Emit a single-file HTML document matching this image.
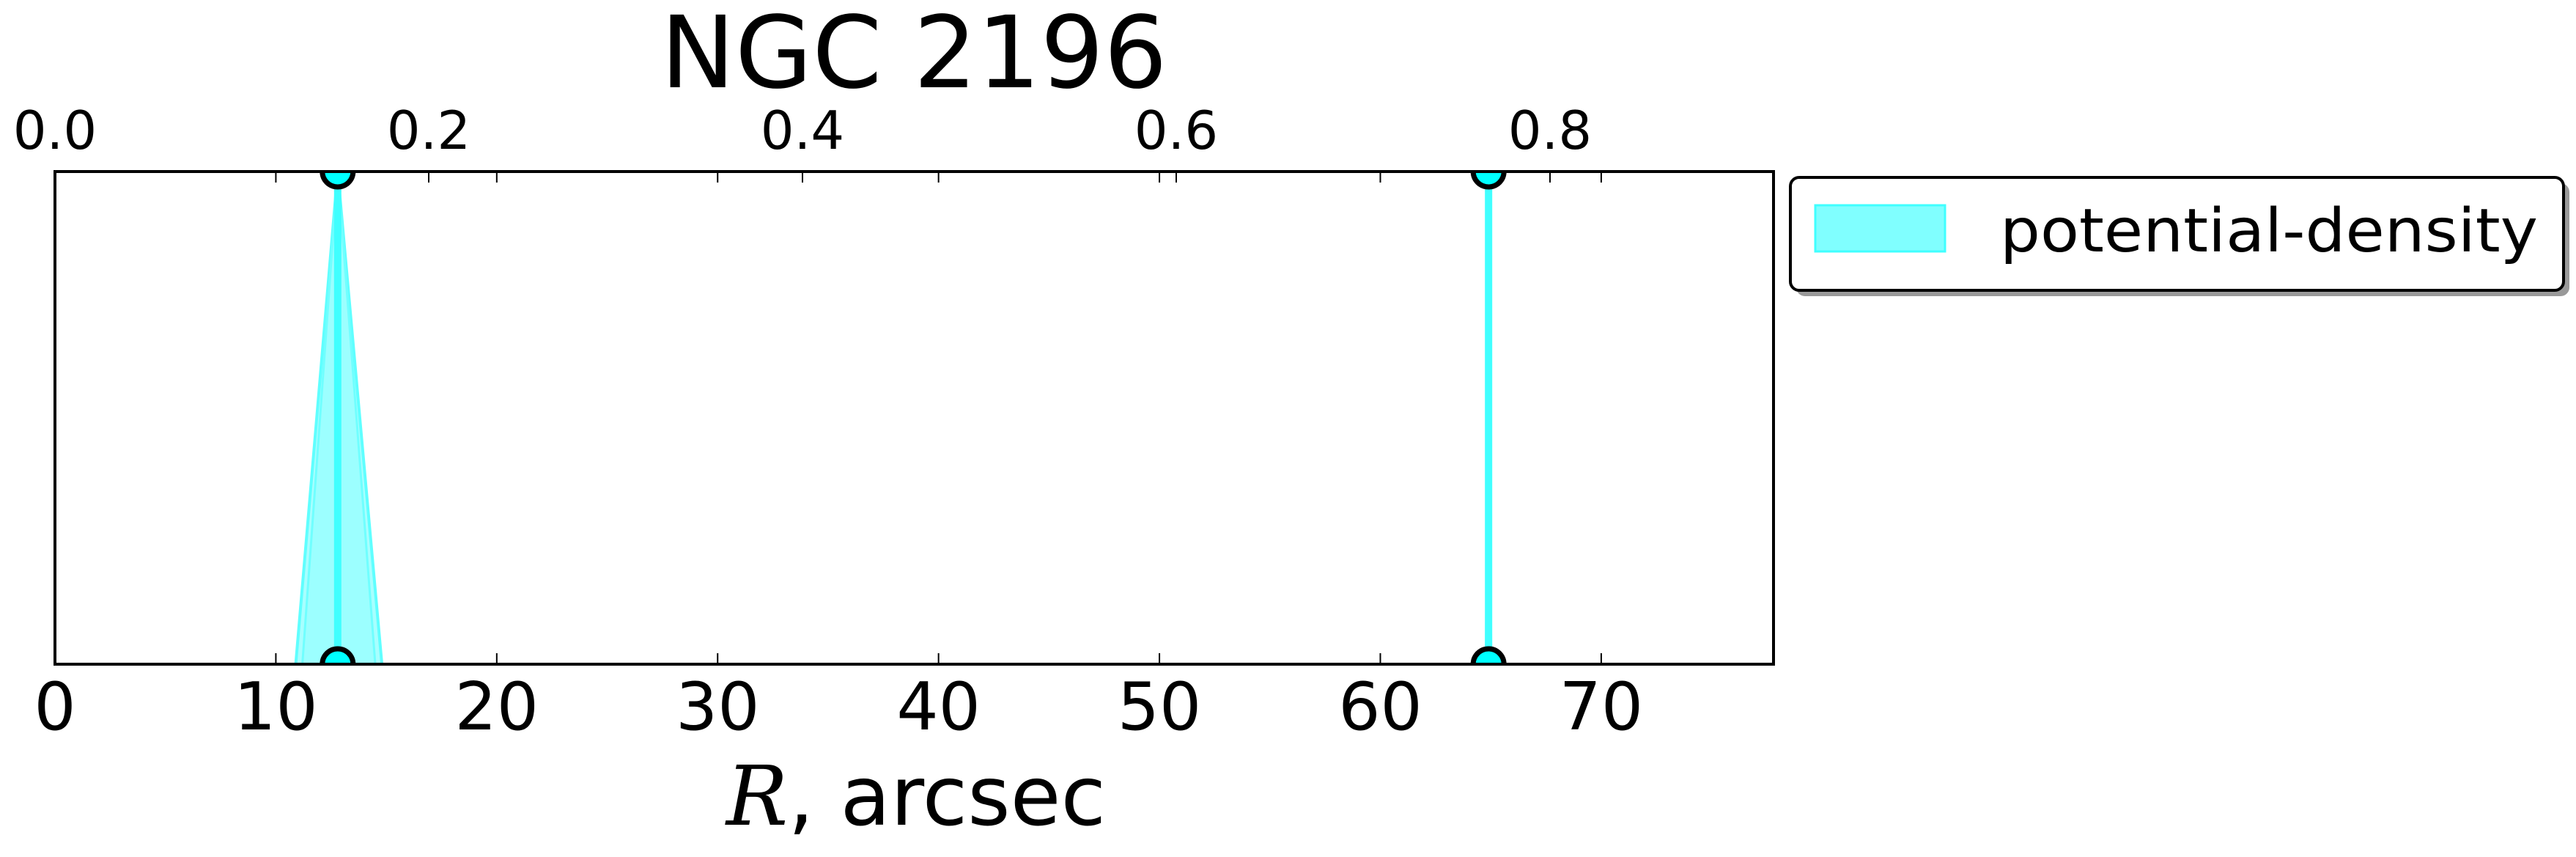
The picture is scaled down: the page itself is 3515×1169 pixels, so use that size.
<!DOCTYPE html>
<html><head><meta charset="utf-8"><style>
body{margin:0;background:#fff}
svg text{font-family:"DejaVu Sans","Liberation Sans",sans-serif;fill:#000}
</style></head><body>
<svg id="chart" width="3515" height="1164" viewBox="0 0 3515 1164" xmlns="http://www.w3.org/2000/svg">
<defs><clipPath id="clip"><rect x="75" y="234" width="2345" height="672"/></clipPath></defs>
<rect width="3515" height="1164" fill="#fff"/>
<text x="1247" y="119" font-size="136" text-anchor="middle">NGC 2196</text>
<g id="plot" clip-path="url(#clip)"></g>
<g id="axes"></g>
<rect x="75" y="234" width="2345" height="672" fill="none" stroke="#000" stroke-width="4"/>
<text x="1250" y="1125" font-size="112" text-anchor="middle"><tspan font-family="'DejaVu Serif','Liberation Serif',serif" font-style="italic">R</tspan>, arcsec</text>
<g>
<rect x="2451" y="250" width="1055" height="154" rx="12" fill="#999"/>
<rect x="2443" y="242" width="1055" height="154" rx="12" fill="#fff" stroke="#000" stroke-width="4"/>
<rect x="2477" y="280" width="177" height="63" fill="#80ffff" stroke="#40ffff" stroke-width="3"/>
<text x="2729" y="343" font-size="82" textLength="734" lengthAdjust="spacingAndGlyphs">potential-density</text>
</g>
</svg>
<script>
const peakR = [12.8, 64.9];
const baseLow = [10.9, 64.8];
const baseHigh = [14.8, 65.0];
const innerLow = [11.2, 64.85];
const innerHigh = [14.5, 64.95];
const bottomTicks = [0, 10, 20, 30, 40, 50, 60, 70];
const bottomTickLabels = ["0", "10", "20", "30", "40", "50", "60", "70"];
const topTicks = [0.0, 0.2, 0.4, 0.6, 0.8];
const topTickLabels = ["0.0", "0.2", "0.4", "0.6", "0.8"];
const yRange = [0, 1];

const NS = "http://www.w3.org/2000/svg";
const L = 75, R = 2420, T = 234, B = 906;
const xMax = 77.8;
const xs = v => L + (R - L) * v / xMax;
const xt = v => L + (v / 0.2) * 510;
const ys = v => B - (B - T) * (v - yRange[0]) / (yRange[1] - yRange[0]);
function mk(tag, attrs, parent) {
  const e = document.createElementNS(NS, tag);
  for (const k in attrs) e.setAttribute(k, attrs[k]);
  parent.appendChild(e);
  return e;
}
const plot = document.getElementById('plot');
const axes = document.getElementById('axes');
for (let i = 0; i < peakR.length; i++) {
  const p = mk('polygon', {points: `${xs(baseLow[i])},${ys(0)} ${xs(peakR[i])},${ys(1)} ${xs(baseHigh[i])},${ys(0)}`, fill: '#a8ffff', stroke: '#60ffff', 'stroke-width': 4}, plot);
  
  
  const p2 = mk('polygon', {points: `${xs(innerLow[i])},${ys(0)} ${xs(peakR[i])},${ys(1)} ${xs(innerHigh[i])},${ys(0)}`, fill: '#9cffff', stroke: '#70ffff', 'stroke-width': 3}, plot);
  
  
  const ln = mk('line', {x1: xs(peakR[i]), x2: xs(peakR[i]), y1: ys(0), y2: ys(1), stroke: '#40ffff', 'stroke-width': 10}, plot);
  
  
  [0, 1].forEach(yv => {
    const c = mk('circle', {cx: xs(peakR[i]), cy: ys(yv), r: 21, fill: '#00ffff', stroke: '#000', 'stroke-width': 7}, plot);
    
    
  });
}
bottomTicks.forEach((v, i) => {
  const x = xs(v);
  const t1 = mk('line', {x1: x, x2: x, y1: B, y2: B - 15, stroke: '#000', 'stroke-width': 2}, axes);
  
  
  const t2 = mk('line', {x1: x, x2: x, y1: T, y2: T + 15, stroke: '#000', 'stroke-width': 2}, axes);
  
  
  const tx = mk('text', {x: x, y: 995, 'font-size': 90, 'text-anchor': 'middle'}, axes);
  tx.textContent = bottomTickLabels[i];
  
  
});
topTicks.forEach((v, i) => {
  const x = xt(v);
  const t = mk('line', {x1: x, x2: x, y1: T, y2: T + 15, stroke: '#000', 'stroke-width': 2}, axes);
  
  
  const tx = mk('text', {x: x, y: 203, 'font-size': 72, 'text-anchor': 'middle'}, axes);
  tx.textContent = topTickLabels[i];
  
  
});
</script>
</body></html>
